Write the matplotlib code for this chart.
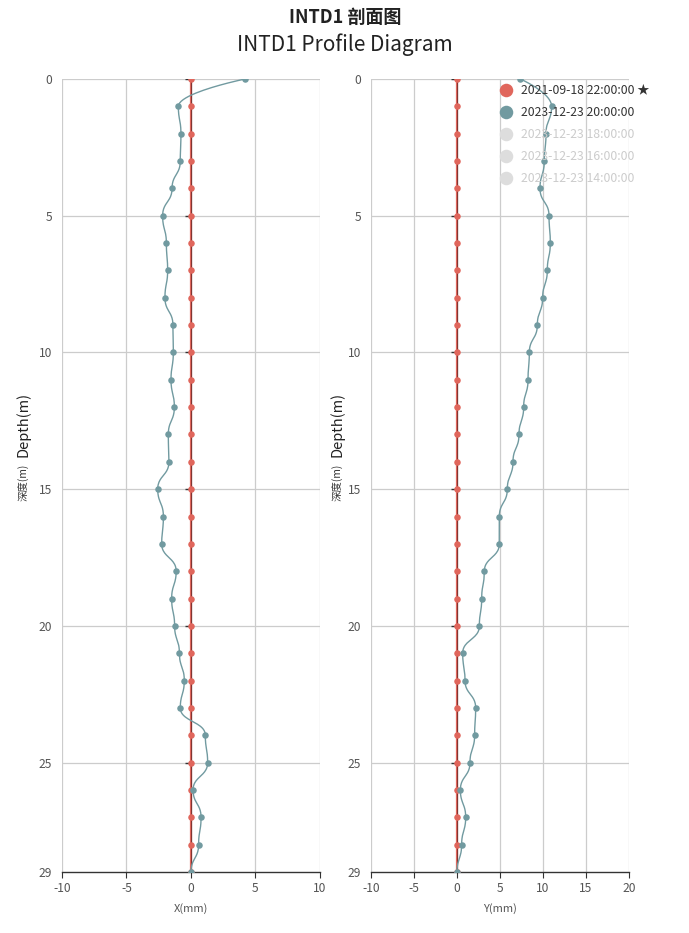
import numpy as np
import matplotlib
matplotlib.use("Agg")
import matplotlib.pyplot as plt

plt.rcParams['font.family'] = ['Noto Sans CJK SC', 'DejaVu Sans']
plt.rcParams['axes.unicode_minus'] = False

depth = list(range(0, 30))
ref_x = [0.0] * 30
ref_y = [0.0] * 30
cur_x = [4.19, -0.98, -0.78, -0.83, -1.47, -2.2, -1.91, -1.81, -2.02, -1.40,
         -1.37, -1.55, -1.29, -1.76, -1.71, -2.58, -2.14, -2.27, -1.15, -1.5,
         -1.27, -0.9, -0.52, -0.83, 1.11, 1.29, 0.16, 0.78, 0.59, 0.0]
cur_y = [7.36, 11.0, 10.35, 10.15, 9.65, 10.7, 10.85, 10.5, 9.96, 9.34,
         8.41, 8.26, 7.75, 7.21, 6.51, 5.85, 4.92, 4.92, 3.18, 2.87,
         2.6, 0.66, 0.93, 2.17, 2.05, 1.51, 0.39, 1.01, 0.54, 0.0]
legend_labels = ["2021-09-18 22:00:00 \u2605", "2023-12-23 20:00:00",
                 "2023-12-23 18:00:00", "2023-12-23 16:00:00", "2023-12-23 14:00:00"]
x_ticks_left = [-10, -5, 0, 5, 10]
x_ticks_right = [-10, -5, 0, 5, 10, 15, 20]
depth_ticks = [0, 5, 10, 15, 20, 25, 29]

RED = '#e0665c'
TEAL = '#719aa0'
GRID = '#cccccc'
TXT = '#555555'

W, H = 689, 933
PLOT_H = 793


def smooth_path(xs, ys, smooth=0.5, n=24):
    """Bezier smoothing monotone along depth (vertical tangents)."""
    P = np.column_stack([np.asarray(xs, float), np.asarray(ys, float)])
    N = len(P)
    pts = []
    t = np.linspace(0, 1, n, endpoint=False)[:, None]
    for i in range(N - 1):
        a, d = P[i], P[i + 1]
        dy = d[1] - a[1]
        if i == 0:
            b = a.copy()
        else:
            b = np.array([a[0], a[1] + dy * smooth])
        c = np.array([d[0], d[1] - dy * smooth])
        seg = ((1 - t) ** 3) * a + 3 * ((1 - t) ** 2) * t * b + 3 * (1 - t) * t ** 2 * c + t ** 3 * d
        pts.append(seg)
    pts.append(P[-1:])
    pts = np.vstack(pts)
    return pts[:, 0], pts[:, 1]


fig = plt.figure(figsize=(6.89, 9.33), dpi=100)


def make_ax(x0, x1, xlim, xticks, refvals, curvals, xlabel, label_x):
    ax = fig.add_axes([x0 / W, 1 - 872 / H, (x1 - x0) / W, PLOT_H / H])
    ax.set_xlim(*xlim)
    ax.set_ylim(29, 0)
    for s in ax.spines.values():
        s.set_visible(False)
    for xt in xticks:
        ax.axvline(xt, color=GRID, lw=0.9, zorder=0)
    for d in depth_ticks[:-1]:
        ax.axhline(d, color=GRID, lw=0.9, zorder=0)
    ax.axhline(29, color='#333333', lw=1.0, zorder=1, clip_on=False)
    ax.set_xticks(xticks)
    ax.set_yticks(depth_ticks)
    ax.tick_params(axis='x', direction='out', length=4, color='#333333',
                   labelsize=8.7, labelcolor=TXT, pad=3)
    ax.tick_params(axis='y', length=0, labelsize=8.7, labelcolor=TXT, pad=7)
    ax.plot([0, 0], [0, 29], color='#333333', lw=0.8, zorder=2)
    ax.plot(refvals, depth, color=RED, lw=1.6, zorder=3)
    ax.plot([0, 0], [0, 29], color='#5a2020', lw=0.5, zorder=3.5)
    for d in depth_ticks[:-1]:
        ax.plot([0], [d], marker=0, ms=4, color='#333333', mew=1, zorder=2)
    ax.scatter(refvals, depth, s=22, color=RED, zorder=4, linewidths=0)
    cx_, cy_ = smooth_path(curvals, depth)
    ax.plot(cx_, cy_, color=TEAL, lw=1.0, zorder=5)
    ax.scatter(curvals, depth, s=22, color=TEAL, zorder=6, linewidths=0)
    cx = (x0 + x1) / 2
    fig.text(cx / W, 1 - 909 / H, xlabel, ha='center', va='center',
             fontsize=8, color=TXT)
    fig.text(label_x / W, 1 - 482 / H, "深度(m)", rotation=90, ha='center',
             va='center', fontsize=7.5, color='#333333')
    fig.text(label_x / W, 1 - 424 / H, "Depth(m)", rotation=90, ha='center',
             va='center', fontsize=10.5, color='#222222')
    return ax


make_ax(62, 320, (-10, 10), x_ticks_left, ref_x, cur_x, "X(mm)", 23)
make_ax(371, 629, (-10, 20), x_ticks_right, ref_y, cur_y, "Y(mm)", 337)

fig.text(345 / W, 1 - 17 / H, "INTD1 剖面图", ha='center', va='center',
         fontsize=13, fontweight='bold', color='#222222')
fig.text(345 / W, 1 - 45 / H, "INTD1 Profile Diagram", ha='center', va='center',
         fontsize=15, color='#222222')

leg_colors = [RED, TEAL, '#dddddd', '#dddddd', '#dddddd']
leg_text_colors = ['#333333', '#333333', '#cccccc', '#cccccc', '#cccccc']
lax = fig.add_axes([0, 0, 1, 1], facecolor='none')
lax.set_xlim(0, W); lax.set_ylim(H, 0); lax.axis('off')
for i, lab in enumerate(legend_labels):
    yy = 90 + i * 22
    lax.scatter([506], [yy], s=95, color=leg_colors[i], linewidths=0, zorder=10)
    lax.text(521, yy, lab, ha='left', va='center', fontsize=8.8,
             color=leg_text_colors[i], zorder=10,
             family=['Noto Sans CJK SC', 'DejaVu Sans'])

fig.savefig("out.png", dpi=100)
